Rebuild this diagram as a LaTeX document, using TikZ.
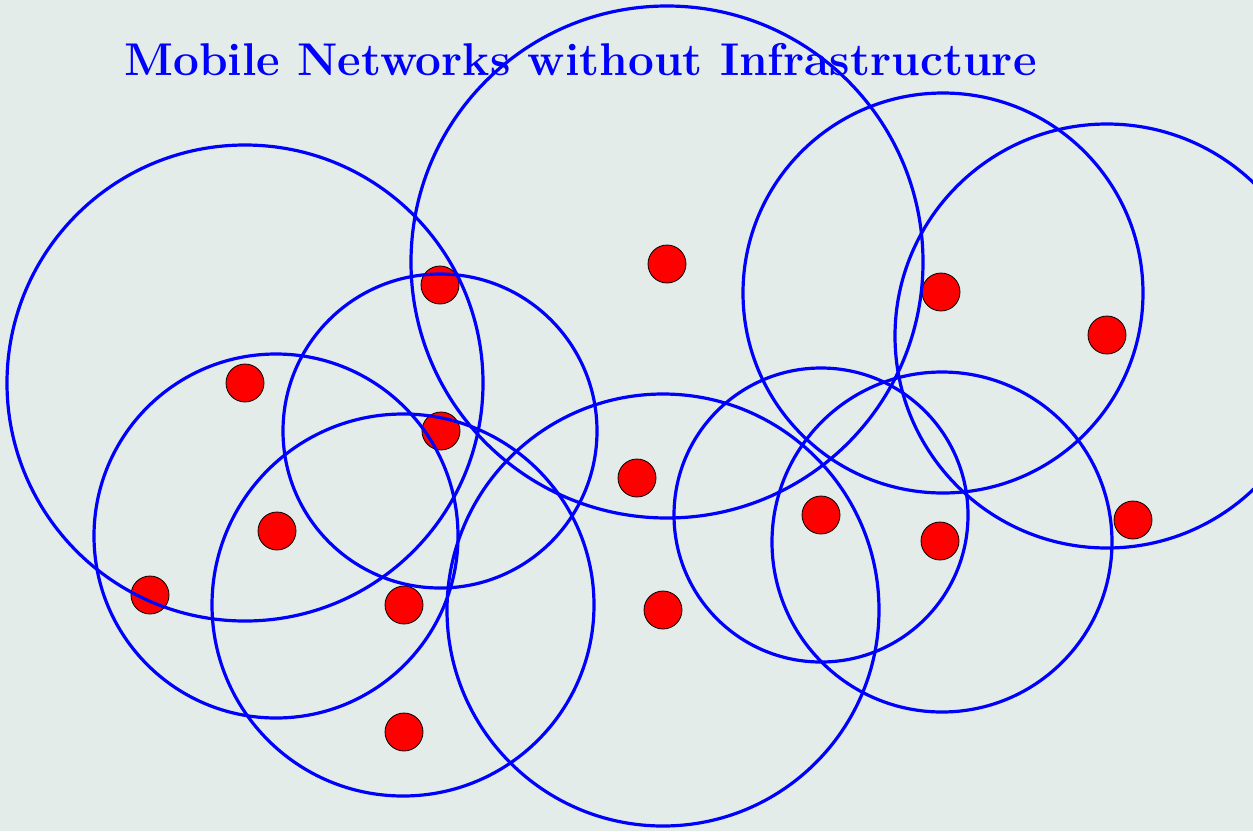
\documentclass[tikz,border=0pt]{standalone}
\begin{document}
\begin{tikzpicture}[x=1pt,y=-1pt]
  \definecolor{bgpaper}{RGB}{227,236,233}
  \tikzset{
    radiorange/.style={draw=blue, line width=3.2pt},
    host/.style={circle, fill=red, draw=black, line width=0.8pt, minimum size=38pt, inner sep=0pt},
  }
  % paper
  \fill[bgpaper] (0,0) rectangle (1253,831);
  \useasboundingbox (0,0) rectangle (1253,831);
  % title
  \node[anchor=base, inner sep=0pt, text=blue, font=\fontsize{45.9}{55}\selectfont\bfseries] (title) at (580.5,75) {Mobile Networks without Infrastructure};
  % mobile hosts
  \node[host] (h1) at (440,285) {};
  \node[host] (h2) at (667,264) {};
  \node[host] (h3) at (941,292) {};
  \node[host] (h4) at (1107,335) {};
  \node[host] (h5) at (245,383) {};
  \node[host] (h6) at (441,431) {};
  \node[host] (h7) at (637,478) {};
  \node[host] (h8) at (277,531) {};
  \node[host] (h9) at (150,595) {};
  \node[host] (h10) at (404,605) {};
  \node[host] (h11) at (663,610) {};
  \node[host] (h12) at (821,515) {};
  \node[host] (h13) at (940,541) {};
  \node[host] (h14) at (1133,520) {};
  \node[host] (h15) at (404,732) {};
  % radio ranges
  \draw[radiorange] (245,383) circle[radius=238];
  \draw[radiorange] (667,262) circle[radius=256];
  \draw[radiorange] (943,293) circle[radius=200];
  \draw[radiorange] (1107,336) circle[radius=212];
  \draw[radiorange] (276,536) circle[radius=182];
  \draw[radiorange] (440,431) circle[radius=157];
  \draw[radiorange] (403,605) circle[radius=191];
  \draw[radiorange] (663,610) circle[radius=216];
  \draw[radiorange] (821,515) circle[radius=147];
  \draw[radiorange] (942,542) circle[radius=170];
\end{tikzpicture}
\end{document}
